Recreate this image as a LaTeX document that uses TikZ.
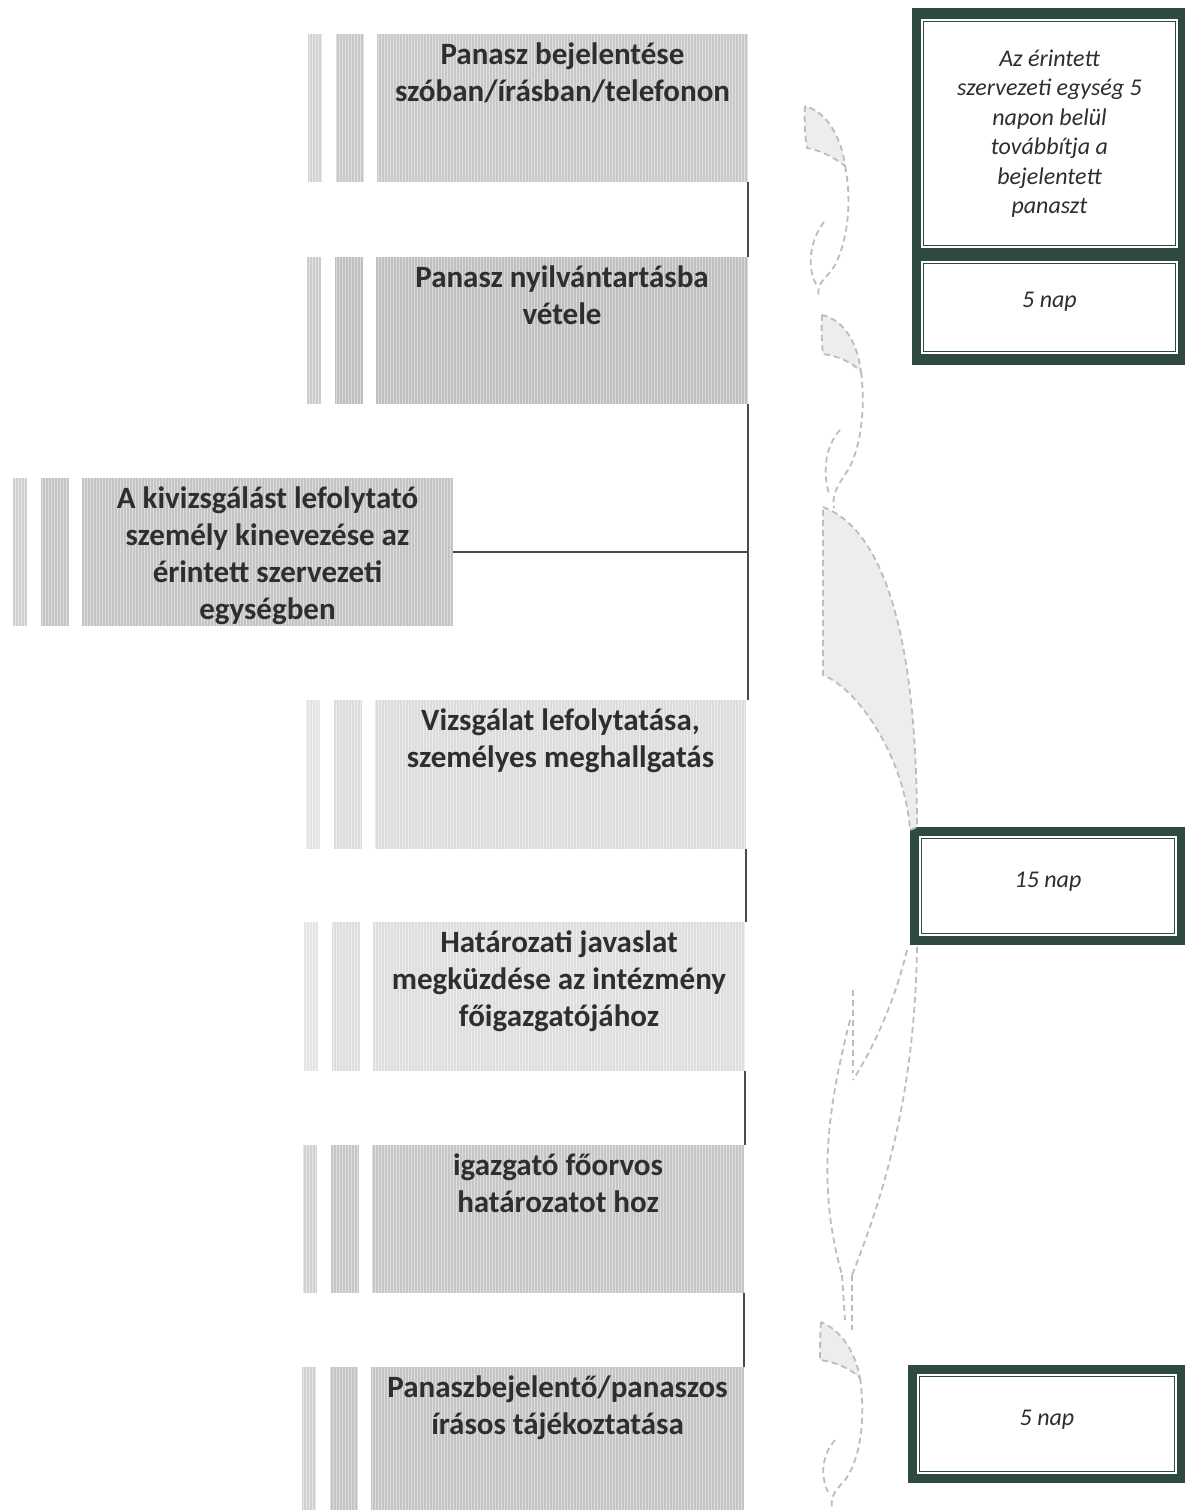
\documentclass[tikz,border=0pt]{standalone}
\usepackage{fontspec}
\setmainfont{Carlito}
\usetikzlibrary{patterns}
\definecolor{txt}{HTML}{2E2E2E}
\definecolor{frame}{HTML}{2F4A42}
\definecolor{lnk}{HTML}{4A4A4A}
\definecolor{cA}{HTML}{C8C8CA}
\definecolor{cB}{HTML}{BFBFBF}
\definecolor{cC}{HTML}{C4C4C4}
\definecolor{cD}{HTML}{DCDCDC}
\definecolor{cE}{HTML}{DEDEDE}
\definecolor{cF}{HTML}{C6C6C6}
\definecolor{cG}{HTML}{C4C4C4}
\definecolor{brc}{HTML}{BDBDBD}
\definecolor{brf}{HTML}{EDEDED}
\tikzset{
  stripbox/.style={rectangle, draw=none, inner sep=0pt, outer sep=0pt, anchor=north west,
    postaction={pattern=vertical lines, pattern color=white, opacity=0.45}},
  btxt/.style={font=\fontsize{31}{37}\selectfont\bfseries, text=txt, align=flush center,
    inner sep=0pt, anchor=north},
  itxt/.style={font=\fontsize{24}{29.5}\selectfont\itshape, text=txt, align=flush center,
    inner sep=0pt},
  framebox/.style={rectangle, fill=frame, draw=none, inner sep=0pt, outer sep=0pt, anchor=north west},
  cellbox/.style={rectangle, fill=white, draw=frame, double=white, double distance=1.8pt,
    line width=1.4pt, inner sep=0pt, outer sep=0pt, anchor=north west},
  conn/.style={draw=lnk, line width=1.3pt},
  bracel/.style={draw=brc, dash pattern=on 6pt off 4pt, line width=1.8pt},
  bracef/.style={fill=brf, draw=brc, dash pattern=on 6pt off 4pt, line width=1.8pt},
}
\newcommand\lstrut{\rule{0pt}{28pt}}
\newcommand\istrut{\rule{0pt}{20pt}}
% #1 name, #2 left x, #3 width, #4 top, #5 height, #6 colour
\newcommand\procbox[6]{%
  \node[stripbox, fill=#6!80!white, minimum width=14pt, minimum height=#5pt] (#1s1) at (#2-69,#4) {};
  \node[stripbox, fill=#6, minimum width=28pt, minimum height=#5pt] (#1s2) at (#2-41,#4) {};
  \node[stripbox, fill=#6, minimum width=#3pt, minimum height=#5pt] (#1) at (#2,#4) {};
}
\begin{document}
\begin{tikzpicture}[x=1pt,y=-1pt]
\useasboundingbox (0,0) rectangle (1185,1510);
\fill[white] (0,0) rectangle (1185,1510);

% ---- process boxes ----
\procbox{b1}{377}{371}{34}{148}{cA}
\procbox{b2}{376}{372}{257}{147}{cB}
\procbox{b3}{82}{371}{478}{148}{cC}
\procbox{b4}{375}{371}{700}{149}{cD}
\procbox{b5}{373}{372}{922}{149}{cE}
\procbox{b6}{372}{372}{1145}{148}{cF}
\procbox{b7}{371}{373}{1367}{143}{cG}

\node[btxt, text width=371pt] (b1t) at ([yshift=-2pt]b1.north) {\lstrut Panasz bejelentése\\szóban/írásban/telefonon};
\node[btxt, text width=372pt] (b2t) at ([yshift=-2pt]b2.north) {\lstrut Panasz nyilvántartásba\\vétele};
\node[btxt, text width=371pt] (b3t) at ([yshift=-2pt]b3.north) {\lstrut A kivizsgálást lefolytató\\személy kinevezése az\\érintett szervezeti\\egységben};
\node[btxt, text width=371pt] (b4t) at ([yshift=-2pt]b4.north) {\lstrut Vizsgálat lefolytatása,\\személyes meghallgatás};
\node[btxt, text width=372pt] (b5t) at ([yshift=-2pt]b5.north) {\lstrut Határozati javaslat\\megküzdése az intézmény\\főigazgatójához};
\node[btxt, text width=372pt] (b6t) at ([yshift=-2pt]b6.north) {\lstrut igazgató főorvos\\határozatot hoz};
\node[btxt, text width=373pt] (b7t) at ([yshift=-2pt]b7.north) {\lstrut Panaszbejelentő/panaszos\\írásos tájékoztatása};

% ---- connectors ----
\draw[conn] (b1.south east) -- (b1.south east |- b2.north);
\coordinate (j) at (b2.south east |- b3.east);
\draw[conn] (b2.south east) -- (b2.south east |- b4.north);
\draw[conn] (b3.east) -- (j);
\draw[conn] (b4.south east) -- (b4.south east |- b5.north);
\draw[conn] (b5.south east) -- (b5.south east |- b6.north);
\draw[conn] (b6.south east) -- (b6.south east |- b7.north);

% ---- right time boxes ----
\node[framebox, minimum width=273pt, minimum height=357pt] (rA) at (912,8) {};
\node[cellbox, minimum width=255pt, minimum height=227pt] (rA1) at (922,20) {};
\node[cellbox, minimum width=255pt, minimum height=91pt] (rA2) at (922,262) {};
\node[itxt, anchor=north] (rA1t) at ([yshift=-26pt]rA1.north) {\istrut Az érintett\\szervezeti egység 5\\napon belül\\továbbítja a\\bejelentett\\panaszt};
\node[itxt, anchor=base] (rA2t) at (rA2.center) {5 nap};

\node[framebox, minimum width=275pt, minimum height=118pt] (rB) at (910,827) {};
\node[cellbox, minimum width=256pt, minimum height=98pt] (rB1) at (920,837) {};
\node[itxt, anchor=base] (rB1t) at ([yshift=-1pt]rB1.center) {15 nap};

\node[framebox, minimum width=277pt, minimum height=118pt] (rC) at (908,1365) {};
\node[cellbox, minimum width=258pt, minimum height=98pt] (rC1) at (918,1375) {};
\node[itxt, anchor=base] (rC1t) at ([yshift=-1pt]rC1.center) {5 nap};

% ---- decorative braces ----
% brace 1
\path[bracef] (805,106) .. controls (804,120) and (805,138) .. (807,148)
   .. controls (820,150) and (835,158) .. (845,166)
   .. controls (842,140) and (828,112) .. (805,106);
\draw[bracel] (845,166) .. controls (852,200) and (848,240) .. (835,265)
   .. controls (828,278) and (815,282) .. (819,297);
\draw[bracel] (824,222) .. controls (810,240) and (806,268) .. (817,286);
% brace 2
\path[bracef] (822,315) .. controls (821,330) and (822,345) .. (823,354)
   .. controls (838,356) and (852,362) .. (861,372)
   .. controls (858,345) and (845,320) .. (822,315);
\draw[bracel] (861,372) .. controls (866,410) and (860,450) .. (848,470)
   .. controls (836,488) and (832,495) .. (834,508);
\draw[bracel] (840,430) .. controls (826,445) and (822,470) .. (829,494);
% large shape to 15 nap
\path[bracef] (823,507) .. controls (885,530) and (917,640) .. (917,827) -- (910,830)
   .. controls (905,760) and (860,690) .. (823,675) -- cycle;
% lower part from 15 nap
\draw[bracel] (917,947) .. controls (915,1080) and (890,1180) .. (852,1275);
\draw[bracel] (907,950) .. controls (895,1000) and (875,1045) .. (853,1080);
\draw[bracel] (853,990) -- (853,1073);
\draw[bracel] (850,1020) .. controls (830,1100) and (815,1180) .. (842,1275);
\draw[bracel] (842,1275) -- (845,1320);
\draw[bracel] (852,1275) -- (852,1330);
% brace near bottom 5 nap
\path[bracef] (821,1322) .. controls (820,1335) and (820,1350) .. (820,1360)
   .. controls (835,1362) and (850,1368) .. (860,1378)
   .. controls (855,1350) and (840,1330) .. (821,1322);
\draw[bracel] (860,1378) .. controls (866,1420) and (860,1460) .. (845,1480)
   .. controls (836,1490) and (830,1495) .. (832,1510);
\draw[bracel] (835,1440) .. controls (822,1455) and (820,1475) .. (828,1492);
\end{tikzpicture}
\end{document}
